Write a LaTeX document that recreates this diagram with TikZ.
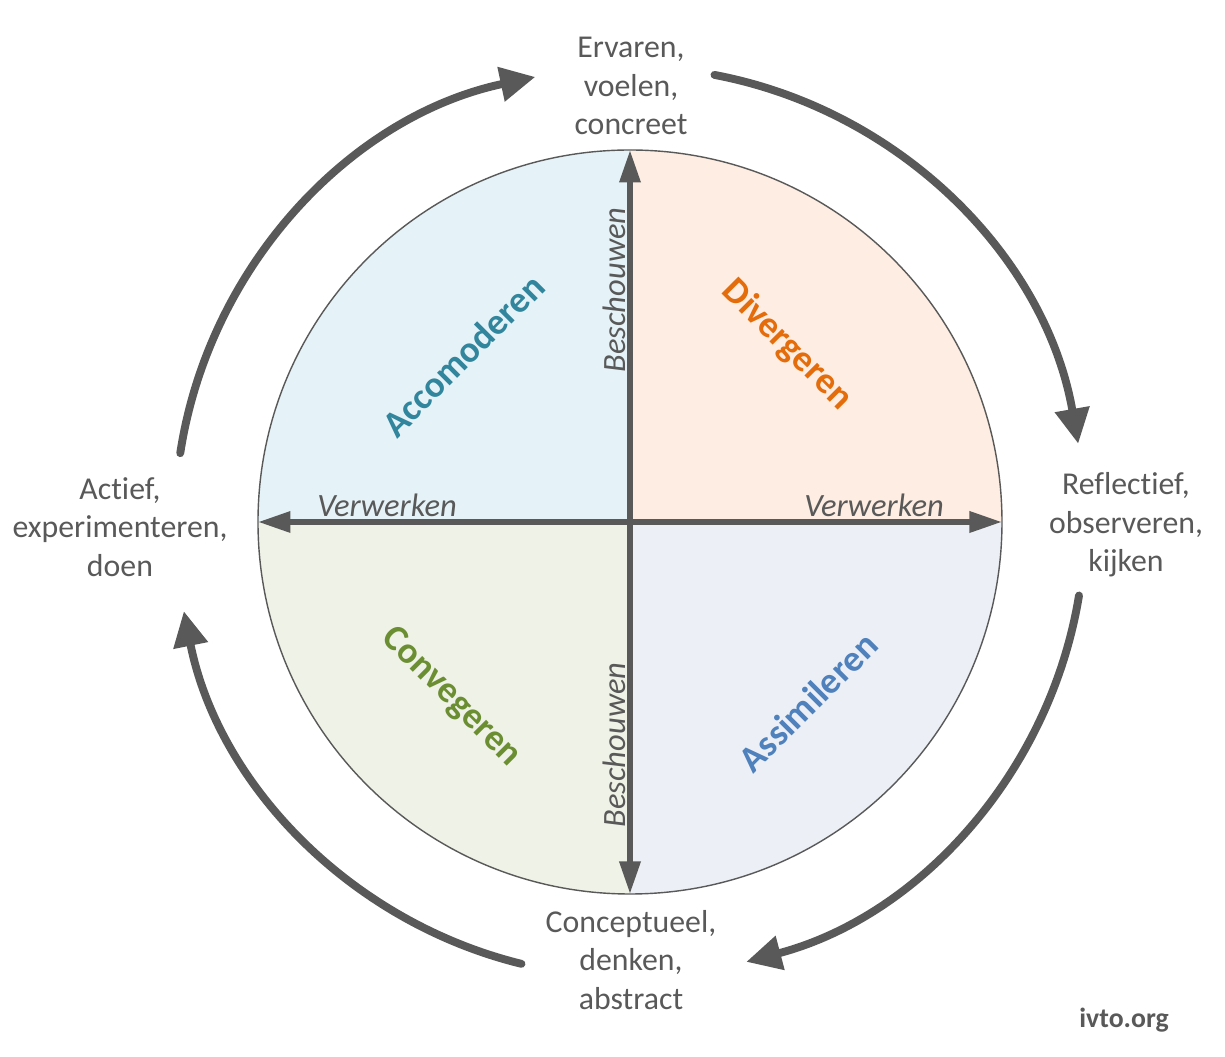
\documentclass[tikz,border=0pt]{standalone}
\usepackage{fontspec}
\setmainfont[Ligatures=NoCommon]{Carlito}
\usetikzlibrary{arrows.meta,positioning}

\definecolor{txtgrey}{HTML}{595959}
\definecolor{arrowgrey}{HTML}{595959}
\definecolor{accfill}{HTML}{E5F2F7}
\definecolor{divfill}{HTML}{FDEDE2}
\definecolor{convfill}{HTML}{EFF2E7}
\definecolor{assfill}{HTML}{ECF0F6}
\definecolor{acctxt}{HTML}{31859C}
\definecolor{divtxt}{HTML}{E46C0A}
\definecolor{convtxt}{HTML}{6C8E33}
\definecolor{asstxt}{HTML}{4F81BD}

\begin{document}
\begin{tikzpicture}[x=0.02cm, y=0.02cm,
    outer/.style={font=\fontsize{18.1}{22}\selectfont, text=txtgrey, align=center},
    quad/.style={font=\fontsize{21}{25}\selectfont\bfseries},
    axislbl/.style={font=\fontsize{18.5}{22}\selectfont\itshape, text=txtgrey},
    axisarrow/.style={line width=3.3pt, draw=arrowgrey, {Triangle[length=18.5pt,width=11.5pt]}-{Triangle[length=18.5pt,width=11.5pt]}},
    cyclearrow/.style={line width=4.5pt, draw=arrowgrey, line cap=round, -{Triangle[length=20pt,width=19pt]}}]

    \useasboundingbox (-630,-535) rectangle (595,522);

    % Center of the circle
    \coordinate (c) at (0,0);

    % Draw the quadrants
    \fill[accfill] (c) -- (-372,0) arc[start angle=180, end angle=90, radius=372] -- cycle;
    \fill[divfill] (c) -- (0,372) arc[start angle=90, end angle=0, radius=372] -- cycle;
    \fill[assfill] (c) -- (372,0) arc[start angle=0, end angle=-90, radius=372] -- cycle;
    \fill[convfill] (c) -- (0,-372) arc[start angle=-90, end angle=-180, radius=372] -- cycle;
    \draw[txtgrey, line width=0.8pt] (c) circle[radius=372];

    % Axes
    \coordinate (ctop) at (0,372);
    \coordinate (cbot) at (0,-372);
    \coordinate (cleft) at (-372,0);
    \coordinate (cright) at (372,0);
    \draw[axisarrow] (cbot) -- (ctop);
    \draw[axisarrow] (cleft) -- (cright);

    % Axis labels
    \node[axislbl] (verwL) at (-243,17) {Verwerken};
    \node[axislbl] (verwR) at (244,17) {Verwerken};
    \node[axislbl, rotate=90] (beschT) at (-16,232) {Beschouwen};
    \node[axislbl, rotate=90] (beschB) at (-16,-223) {Beschouwen};

    % Learning styles
    \node[quad, text=acctxt, rotate=45] (acc) at (-167,167) {Accomoderen};
    \node[quad, text=divtxt, rotate=-45] (div) at (157,177) {Divergeren};
    \node[quad, text=convtxt, rotate=-45] (conv) at (-179,-175) {Convegeren};
    \node[quad, text=asstxt, rotate=45] (ass) at (178,-180) {Assimileren};

    % Outer labels
    \node[outer] (ervaren) at (1,436) {Ervaren,\\voelen,\\concreet};
    \node[outer] (reflect) at (496,-3) {Reflectief,\\observeren,\\kijken};
    \node[outer] (concept) at (1,-438) {Conceptueel,\\denken,\\abstract};
    \node[outer] (actief) at (-510,-5) {Actief,\\experimenteren,\\doen};

    % Cycle arrows
    \draw[cyclearrow] (c) ++(79.3:455) arc[start angle=79.3, end angle=9.9, radius=455];
    \draw[cyclearrow] (c) ++(-9.3:455) arc[start angle=-9.3, end angle=-75.2, radius=455];
    \draw[cyclearrow] (c) ++(256.2:455) arc[start angle=256.2, end angle=191.3, radius=455];
    \draw[cyclearrow] (c) ++(171.3:455) arc[start angle=171.3, end angle=102, radius=455];

    % Source
    \node[font=\fontsize{15.8}{19}\selectfont\bfseries, text=txtgrey] (src) at (494,-498) {ivto.org};

\end{tikzpicture}
\end{document}
